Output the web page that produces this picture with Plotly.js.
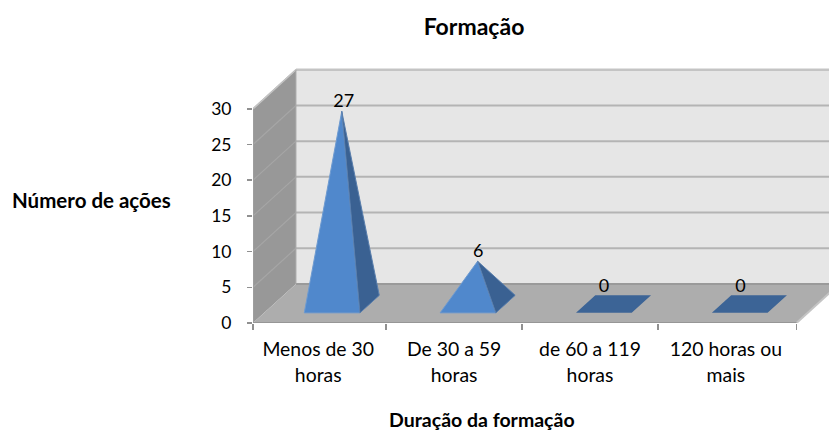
<!DOCTYPE html>
<html><head><meta charset="utf-8">
<script src="https://cdn.plot.ly/plotly-3.0.1.min.js"></script>
<style>html,body{margin:0;padding:0;background:#fff;overflow:hidden}#c{width:829px;height:432px}</style>
</head><body><div id="c"></div>
<script>
const firstLines = ['Menos de 30','De 30 a 59','de 60 a 119','120 horas ou'];
const secondLines = ['horas','horas','horas','mais'];
const values = [27,6,0,0];
const yTicks = [0,5,10,15,20,25,30];
const chartTitle = 'Formação', xTitle = 'Duração da formação', yTitle = 'Número de ações';

const FONT = 'Lato, Carlito, Calibri, sans-serif';
const depthX = 0.316, depthY = 5.47, yMax = 30;
const tF = 0.26, tB = 0.71, tM = 0.485, hw = 0.205;
const pt = (cx, off, t, v) => [cx + off + t*depthX, v + t*depthY];
const n = values.length;

function poly(list, name, color, line){
  const xs = [], ys = [];
  list.forEach(p => { p.forEach(q => { xs.push(q[0]); ys.push(q[1]); }); xs.push(p[0][0], null); ys.push(p[0][1], null); });
  return {x: xs, y: ys, type: 'scatter', mode: 'lines', fill: 'toself', fillcolor: color, cliponaxis: false,
    line: {color: line || color, width: line ? 1 : 0}, hoverinfo: 'skip', showlegend: false, name};
}
function path(xs, ys, color, w){
  return {x: xs, y: ys, type: 'scatter', mode: 'lines', cliponaxis: false,
    line: {color, width: w}, hoverinfo: 'skip', showlegend: false};
}
const traces = [];
// walls and floor
traces.push(poly([[[depthX,depthY],[n+depthX,depthY],[n+depthX,yMax+depthY],[depthX,yMax+depthY]]], 'back', '#e6e6e6'));
traces.push(poly([[[0,0],[depthX,depthY],[depthX,yMax+depthY],[0,yMax]]], 'side', '#989898'));
traces.push(poly([[[0,0],[n,0],[n+depthX,depthY],[depthX,depthY]]], 'floor', '#adadad'));
// gridlines
yTicks.forEach(v => {
  if (v > 0) traces.push(path([0,depthX],[v,v+depthY],'#a6a6a6',1.2));
  traces.push(path([depthX,n+depthX],[v+depthY,v+depthY], v===0 ? '#9a9a9a' : '#b4b4b4', 2));
});
traces.push(path([depthX,n+depthX],[yMax+depthY,yMax+depthY],'#c4c4c4',2));
traces.push(path([0,depthX],[yMax,yMax+depthY],'#c4c4c4',1.5));
traces.push(path([depthX,depthX],[depthY,yMax+depthY],'#a8a8a8',1));
traces.push(path([n,n+depthX],[0,depthY],'#c4c4c4',2));
// front axis lines
traces.push(path([0,0],[0,yMax],'#a0a0a0',1.5));
traces.push(path([0,n],[0,0],'#969696',2));
// pyramids
const bases = [], fronts = [], sides = [];
values.forEach((v,i) => {
  const c = i + 0.5;
  const fl = pt(c,-hw,tF,0), fr = pt(c,hw,tF,0), br = pt(c,hw,tB,0), bl = pt(c,-hw,tB,0), ap = pt(c,0,tM,v);
  bases.push([fl,fr,br,bl]);
  if (v > 0) { fronts.push([fl,fr,ap]); sides.push([fr,br,ap]); }
});
traces.push(poly(bases,'base','#3c6496'));
traces.push(poly(fronts,'front','#5088cc','#6f9bd0'));
traces.push(poly(sides,'sidefaces','#3a6192','#5a7fad'));
// data labels
const labelDX = [0.015,0.005,-0.07,-0.065], labelDY = [0,0,1.1,1.1];
traces.push({
  x: values.map((v,i) => i + 0.5 + tM*depthX + labelDX[i]),
  y: values.map((v,i) => v + tM*depthY + labelDY[i]),
  text: values.map(String), type: 'scatter', mode: 'text', textposition: 'top center', cliponaxis: false,
  textfont: {family: FONT, size: 18, color: '#000'}, hoverinfo: 'skip', showlegend: false
});
// overlay axis for second line of labels
traces.push({x: [0], y: [0], xaxis: 'x2', type: 'scatter', mode: 'markers', marker: {opacity: 0}, hoverinfo: 'skip', showlegend: false});

const tickFont = {family: FONT, size: 19.4, color: '#000'};
const centers = firstLines.map((s,i) => i + 0.5 - 0.02);
const xRange = [0, 4.239];
const layout = {
  width: 829, height: 432, paper_bgcolor: '#fff', plot_bgcolor: 'rgba(0,0,0,0)',
  margin: {l: 252.5, r: 0, t: 65.8, b: 109.2, pad: 0}, showlegend: false,
  title: {text: '<b>' + chartTitle + '</b>', font: {family: FONT, size: 23, color: '#000'},
    x: 474/829, xanchor: 'center', y: 1 - 27/432, yanchor: 'middle'},
  xaxis: {range: xRange, showgrid: false, zeroline: false, showline: false, automargin: false,
    tickmode: 'array', tickvals: centers, ticktext: firstLines, ticks: '', tickfont: tickFont, ticklabelstandoff: 13,
    minor: {tickmode: 'array', tickvals: [0,0.98,1.98,2.98,4], ticks: 'outside', ticklen: 6, tickwidth: 1.5, tickcolor: '#909090', showgrid: false}},
  xaxis2: {range: xRange, overlaying: 'x', side: 'bottom', anchor: 'y', showgrid: false, zeroline: false, showline: false,
    tickmode: 'array', tickvals: centers, ticktext: secondLines, ticks: '', tickfont: tickFont, ticklabelstandoff: 39, automargin: false},
  yaxis: {range: [0,36], showgrid: false, zeroline: false, showline: false, automargin: false,
    tickmode: 'array', tickvals: yTicks, ticktext: yTicks.map(String), ticks: 'outside', ticklen: 5, tickwidth: 1.5, tickcolor: '#909090',
    tickfont: {family: FONT, size: 17.5, color: '#000'}, ticklabelstandoff: 12},
  annotations: [
    {text: '<b>' + yTitle + '</b>', xref: 'paper', yref: 'paper', x: -(252.5-91)/576.5, y: (322.8-200)/257, xanchor: 'center', yanchor: 'middle', showarrow: false,
     font: {family: FONT, size: 20.5, color: '#000'}},
    {text: '<b>' + xTitle + '</b>', xref: 'paper', yref: 'paper', x: (482-252.5)/576.5, y: -(419.5-322.8)/257, xanchor: 'center', yanchor: 'middle', showarrow: false,
     font: {family: FONT, size: 19.5, color: '#000'}}
  ]
};
Plotly.newPlot('c', traces, layout, {displayModeBar: false, staticPlot: true});
</script></body></html>
